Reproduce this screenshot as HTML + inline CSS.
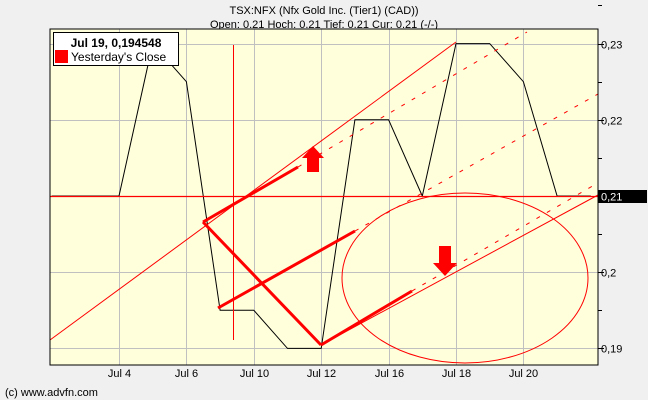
<!DOCTYPE html>
<html><head><meta charset="utf-8">
<style>
html,body{margin:0;padding:0;background:#f0f0f0;}
body{width:648px;height:400px;overflow:hidden;font-family:"Liberation Sans",sans-serif;}
svg{display:block;}
text{font-family:"Liberation Sans",sans-serif;}
</style></head>
<body>
<svg id="chart" width="648" height="400">
  <rect x="0" y="0" width="648" height="400" fill="#f0f0f0"/>
  <text x="324" y="14" font-size="11" text-anchor="middle" fill="#000">TSX:NFX (Nfx Gold Inc. (Tier1) (CAD))</text>
  <text x="324" y="28" font-size="11" text-anchor="middle" fill="#000">Open: 0.21 Hoch: 0.21 Tief: 0.21 Cur: 0.21 (-/-)</text>
  <rect x="50" y="29" width="548" height="336" fill="#ffffdc"/>
  <g id="grid"></g>
  <g id="series"></g>
  <g id="draw"></g>
  <rect x="50" y="29" width="548" height="336" fill="none" stroke="#000" stroke-width="1"/>
  <g id="axes"></g>
  <g>
    <rect x="53.5" y="32.5" width="125" height="33" fill="#fff" stroke="#000" stroke-width="1"/>
    <text x="116" y="47" font-size="12" font-weight="bold" text-anchor="middle">Jul 19, 0,194548</text>
    <rect x="55" y="50" width="13" height="13" fill="#ff0000"/>
    <text x="71" y="61" font-size="12">Yesterday's Close</text>
  </g>
  <text x="5" y="396" font-size="11" fill="#000">(c) www.advfn.com</text>
</svg>
<script>
const dayIndex = [-2,-1,0,1,2,3,4,5,6,7,8,9,10,11,12,13,14];
const closeValues = [0.21,0.21,0.21,0.23,0.225,0.195,0.195,0.19,0.19,0.22,0.22,0.21,0.23,0.23,0.225,0.21,0.21];
const xTickIndex = [0,2,4,6,8,10,12];
const xTickLabels = ["Jul 4","Jul 6","Jul 10","Jul 12","Jul 16","Jul 18","Jul 20"];
const yTickValues = [0.19,0.20,0.21,0.22,0.23];
const yTickLabels = ["0,19","0,2","0,21","0,22","0,23"];
const yesterdayClose = 0.21;

const NS="http://www.w3.org/2000/svg";
function xs(i){return 119+i*33.7;}
function ys(v){return 196-(v-0.21)*7620;}
function mk(tag,attrs,parent){const e=document.createElementNS(NS,tag);for(const k in attrs)e.setAttribute(k,attrs[k]);parent.appendChild(e);return e;}
const grid=document.getElementById('grid'),axes=document.getElementById('axes'),series=document.getElementById('series'),draw=document.getElementById('draw');

xTickIndex.forEach((t,k)=>{
  const x=Math.round(xs(t))+0.5;
  const l=mk('line',{x1:x,x2:x,y1:29,y2:365,stroke:'#c0c0c0','stroke-width':1},grid);
  
  
  const tx=mk('text',{x:x,y:377,'font-size':11,'text-anchor':'middle'},axes);
  tx.textContent=xTickLabels[k];
  
  
});
yTickValues.forEach((v,k)=>{
  const y=Math.round(ys(v))+0.5;
  if(v!==yesterdayClose){
    const l=mk('line',{x1:50,x2:598,y1:y,y2:y,stroke:'#c0c0c0','stroke-width':1},grid);
    
    
  }
  const tk=mk('line',{x1:598,x2:604,y1:y,y2:y,stroke:'#000'},axes);
  
  
  const mt=mk('line',{x1:598,x2:602,y1:Math.round(ys(v+0.005))+0.5,y2:Math.round(ys(v+0.005))+0.5,stroke:'#000'},axes);
  
  
  if(v===yesterdayClose){
    const bg=mk('rect',{x:598,y:y-6.5,width:49,height:13,fill:'#000'},axes);
    
    
  }
  const tx=mk('text',{x:601,y:y+4,'font-size':11,fill:v===yesterdayClose?'#fff':'#000'},axes);
  tx.textContent=yTickLabels[k];
  
  
});

const pts=dayIndex.map((d,i)=>Math.max(50,Math.min(598,xs(d)))+','+ys(closeValues[i])).join(' ');
const pl=mk('polyline',{points:pts,fill:'none',stroke:'#000','stroke-width':1},series);



const yc=Math.round(ys(yesterdayClose))+0.5;
const hl=mk('line',{x1:50,x2:598,y1:yc,y2:yc,stroke:'#ff0000','stroke-width':1.3},draw);



// user-drawn annotations (pixel geometry, not data)
const R='#ff0000';
function ln(a,b,c,d,w,dash,name){
  const e=mk('line',{x1:a,y1:b,x2:c,y2:d,stroke:R,'stroke-width':w},draw);
  if(dash)e.setAttribute('stroke-dasharray',dash);
  
  
}
ln(233.5,45,233.5,340,1,null,'crosshair-vertical');
ln(50,340,456,42,1,null,'upper-trendline');
ln(321,345,598,195,1,null,'lower-trendline');
ln(203,222,321,345,3,null,'thick-line-down');
ln(203,222,298,167,3,null,'thick-line-up-1');
ln(218,308,355,231,3,null,'thick-line-up-2');
ln(321,345,412,291,3,null,'thick-line-up-3');
ln(298,167,527,32,1,'4,8','dashed-extension-1');
ln(355,231,598,94,1,'4,8','dashed-extension-2');
ln(412,291,596,184,1,'4,8','dashed-extension-3');
const el=mk('ellipse',{cx:465,cy:278,rx:123,ry:85,fill:'none',stroke:R,'stroke-width':1},draw);


const up=mk('polygon',{points:'313,146 324,158 319,158 319,172 307,172 307,158 302,158',fill:R},draw);


const dn=mk('polygon',{points:'439,246 451,246 451,263 457,263 445,276 433,263 439,263',fill:R},draw);


</script>
</body></html>
